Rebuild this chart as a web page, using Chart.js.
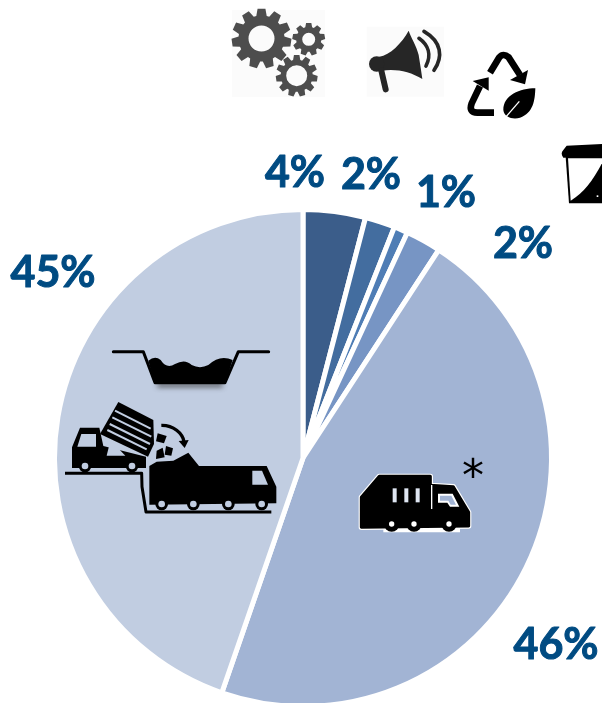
<!DOCTYPE html>
<html>
<head>
<meta charset="utf-8">
<style>
  html, body { margin: 0; padding: 0; background: #fff; overflow: hidden; width: 602px; height: 703px; }
  canvas { display: block; }
</style>
<script src="https://cdn.jsdelivr.net/npm/chart.js@4"></script>
</head>
<body>
<canvas id="pie" width="602" height="720"></canvas>
<script>
const sliceValues = [4.05, 1.95, 0.9, 2.3, 46.1, 44.7];
const sliceLabels = ["4%", "2%", "1%", "2%", "46%", "45%"];
const sliceColors = ["#3b5d8a", "#436d9f", "#4f7db5", "#7795c4", "#a2b4d4", "#c1cde1"];
const labelSpots = [[295, 187], [371, 189], [446, 207], [523, 258], [556, 659], [53, 287]];

const INK = "#000";
const PIE_LIGHT = "#c1cde1";
const PIE_MID = "#a2b4d4";

// draw an icon in zoomed-in coordinates (3x crop of the picture)
function inCrop(ctx, ox, oy, fn) {
  ctx.save();
  ctx.translate(ox, oy);
  ctx.scale(1 / 3, 1 / 3);
  fn();
  ctx.restore();
}

function fillPath(ctx, d, color) {
  ctx.fillStyle = color;
  ctx.fill(new Path2D(d));
}

function strokePath(ctx, d, color, width, cap) {
  ctx.strokeStyle = color;
  ctx.lineWidth = width;
  ctx.lineCap = cap || "butt";
  ctx.lineJoin = "round";
  ctx.stroke(new Path2D(d));
}

function ring(ctx, x, y, outer, inner, innerColor) {
  ctx.beginPath();
  ctx.arc(x, y, outer, 0, Math.PI * 2);
  ctx.fillStyle = INK;
  ctx.fill();
  ctx.beginPath();
  ctx.arc(x, y, inner, 0, Math.PI * 2);
  ctx.fillStyle = innerColor;
  ctx.fill();
}

function gear(ctx, cx, cy, outer, inner, hole, teeth) {
  ctx.beginPath();
  const step = (Math.PI * 2) / teeth;
  for (let i = 0; i < teeth; i++) {
    const a = i * step - Math.PI / 2;
    const pts = [[-0.5, inner], [-0.27, outer], [0.27, outer], [0.5, inner]];
    pts.forEach(([f, r]) => {
      ctx.lineTo(cx + r * Math.cos(a + f * step * (r === outer ? 0.85 : 0.8)), cy + r * Math.sin(a + f * step * (r === outer ? 0.85 : 0.8)));
    });
  }
  ctx.closePath();
  ctx.moveTo(cx + hole, cy);
  ctx.arc(cx, cy, hole, 0, Math.PI * 2, true);
  ctx.fillStyle = "#4d4d4d";
  ctx.fill();
}

function drawGears(ctx) {
  ctx.fillStyle = "#fbfbfb";
  ctx.fillRect(232, 10, 93, 87);
  gear(ctx, 261.5, 38.5, 30, 23, 13, 11);
  gear(ctx, 308.7, 39.3, 16.5, 12.5, 6.5, 9);
  gear(ctx, 296.7, 75.7, 21, 16, 10.5, 11);
}

function drawMegaphone(ctx) {
  inCrop(ctx, 220, 0, () => {
    ctx.fillStyle = "#fbfbfb";
    ctx.fillRect(440, 80, 232, 210);
    const c = "#262626";
    fillPath(ctx, "M478,170 C510,165 545,130 566,92 C572,110 590,140 596,165 C600,190 604,215 607,237 C570,215 525,205 484,213 Z", c);
    ctx.beginPath();
    ctx.arc(470, 192, 23, 0, Math.PI * 2);
    ctx.fillStyle = c;
    ctx.fill();
    strokePath(ctx, "M484,212 L497,268", c, 18, "round");
    strokePath(ctx, "M597,115 C625,135 635,165 618,198", c, 11, "round");
    strokePath(ctx, "M612,94 C665,125 670,170 642,211", c, 11, "round");
  });
}

function drawRecycle(ctx) {
  inCrop(ctx, 220, 0, () => {
    strokePath(ctx, "M810,218 L838,172 Q850,158 866,172 L900,225", INK, 20);
    fillPath(ctx, "M924,210 L915,253 L870,240 Z", INK);
    strokePath(ctx, "M822,338 L772,338 Q745,338 755,310 L780,258", INK, 20);
    fillPath(ctx, "M806,232 L758,243 L806,272 Z", INK);
    fillPath(ctx, "M946,265 C900,265 850,285 850,330 C852,352 880,360 900,353 C940,340 945,300 946,265 Z", INK);
    strokePath(ctx, "M848,362 L898,304", "#fff", 4);
  });
}

function drawBin(ctx) {
  inCrop(ctx, 220, 0, () => {
    fillPath(ctx, "M1040,437 L1146,432 L1146,470 L1030,473 Q1020,460 1030,450 Z", INK);
    fillPath(ctx, "M1037,470 L1146,468 L1146,610 L1047,610 Z", INK);
    fillPath(ctx, "M1044,475 L1146,475 L1146,490 C1120,540 1090,580 1052,602 Z", "#fff");
    ctx.fillStyle = "#fff";
    ctx.fillRect(1130, 586, 5, 5);
  });
}

function drawBasin(ctx) {
  inCrop(ctx, 60, 340, () => {
    ctx.save();
    ctx.shadowColor = "rgba(60,60,60,0.8)";
    ctx.shadowBlur = 5;
    ctx.shadowOffsetY = 4;
    fillPath(ctx, "M292,118 L488,118 L488,130 L292,130 Z", INK);
    ctx.restore();
    fillPath(ctx, "M265,62 Q285,45 302,60 Q320,88 345,72 Q375,55 395,75 Q420,88 445,75 Q480,42 518,60 L495,132 L285,132 Z", INK);
    strokePath(ctx, "M160,35 L250,35 L285,128 L495,128 L535,35 L626,35", INK, 9, "round");
  });
}

function drawDumpTrucks(ctx) {
  inCrop(ctx, 60, 340, () => {
    // first truck
    fillPath(ctx, "M36,322 L60,263 L118,263 L130,318 L258,350 L258,384 L36,384 Z", INK);
    fillPath(ctx, "M64,282 L108,282 L108,320 L52,320 Z", PIE_LIGHT);
    fillPath(ctx, "M140,347 L196,347 L176,326 L148,314 Z", PIE_LIGHT);
    fillPath(ctx, "M175,186 L280,240 L282,312 L264,350 L120,282 Z", INK);
    ["M165,212 L272,266", "M157,232 L274,290", "M149,252 L270,312", "M142,270 L260,328"].forEach((d) => {
      strokePath(ctx, d, PIE_LIGHT, 6);
    });
    strokePath(ctx, "M15,400 L245,400 L246,440 L258,516 L634,516", INK, 9);
    ring(ctx, 75, 378, 19, 10, PIE_LIGHT);
    ring(ctx, 216, 378, 19, 10, PIE_LIGHT);
    // falling waste and arrow
    strokePath(ctx, "M304,256 C340,255 368,280 372,305", INK, 10);
    fillPath(ctx, "M356,303 L386,300 L374,324 Z", INK);
    fillPath(ctx, "M293,280 L320,288 L312,310 L288,304 Z", INK);
    fillPath(ctx, "M290,332 L308,323 L314,352 L288,357 Z", INK);
    fillPath(ctx, "M318,318 L339,325 L334,347 L314,344 Z", INK);
    // second truck
    fillPath(ctx, "M268,378 L290,365 L340,362 L385,338 L417,378 L620,378 L649,440 L649,490 L268,494 Z", INK);
    fillPath(ctx, "M577,392 L606,392 L624,434 L577,434 Z", PIE_LIGHT);
    ring(ctx, 305, 492, 19, 10, PIE_LIGHT);
    ring(ctx, 400, 492, 19, 10, PIE_LIGHT);
    ring(ctx, 505, 492, 19, 10, PIE_LIGHT);
    ring(ctx, 605, 492, 19, 10, PIE_LIGHT);
  });
}

function drawGarbageTruck(ctx) {
  inCrop(ctx, 350, 450, () => {
    const body = "M34,142 L88,79 L241,79 L241,106 L310,110 L356,187 L356,228 L34,232 Z";
    strokePath(ctx, body, "#fff", 16);
    strokePath(ctx, "M100,240 L330,240", "#fff", 14);
    strokePath(ctx, body, INK, 9);
    fillPath(ctx, body, INK);
    [128, 163, 197].forEach((x) => {
      ctx.fillStyle = "#dfe6f2";
      ctx.fillRect(x, 115, 12, 42);
    });
    ctx.fillStyle = "#fff";
    ctx.fillRect(243, 105, 4, 72);
    ctx.fill(new Path2D("M264,131 L308,131 L328,170 L300,170 L292,158 L264,158 Z"));
    fillPath(ctx, "M270,137 L304,137 L318,164 L302,164 L295,152 L270,152 Z", PIE_MID);
    ring(ctx, 125, 222, 23, 8, "#fff");
    ring(ctx, 192, 222, 23, 8, "#fff");
    ring(ctx, 297, 222, 23, 8, "#fff");
  });
  ctx.fillStyle = INK;
  ctx.font = "400 44px 'DejaVu Sans'";
  ctx.textAlign = "center";
  ctx.textBaseline = "alphabetic";
  ctx.fillText("*", 473, 491);
}

const overlayPlugin = {
  id: "overlay",
  afterDraw(chart) {
    const ctx = chart.ctx;
    ctx.save();
    drawGears(ctx);
    drawMegaphone(ctx);
    drawRecycle(ctx);
    drawBin(ctx);
    drawBasin(ctx);
    drawDumpTrucks(ctx);
    drawGarbageTruck(ctx);
    ctx.fillStyle = "#004b82";
    ctx.strokeStyle = "#004b82";
    ctx.lineWidth = 1;
    ctx.lineJoin = "round";
    ctx.font = "700 43px Lato";
    ctx.textAlign = "center";
    ctx.textBaseline = "alphabetic";
    sliceLabels.forEach((label, i) => {
      ctx.fillText(label, labelSpots[i][0], labelSpots[i][1]);
      ctx.strokeText(label, labelSpots[i][0], labelSpots[i][1]);
    });
    ctx.restore();
  },
};

new Chart(document.getElementById("pie").getContext("2d"), {
  type: "pie",
  data: {
    labels: sliceLabels,
    datasets: [
      {
        data: sliceValues,
        backgroundColor: sliceColors,
        borderColor: "#fff",
        borderWidth: 5,
      },
    ],
  },
  options: {
    responsive: false,
    animation: false,
    radius: 248.5,
    layout: { padding: { left: 57, right: 53, top: 212, bottom: 16 } },
    plugins: { legend: { display: false }, tooltip: { enabled: false } },
  },
  plugins: [overlayPlugin],
});
</script>
</body>
</html>
